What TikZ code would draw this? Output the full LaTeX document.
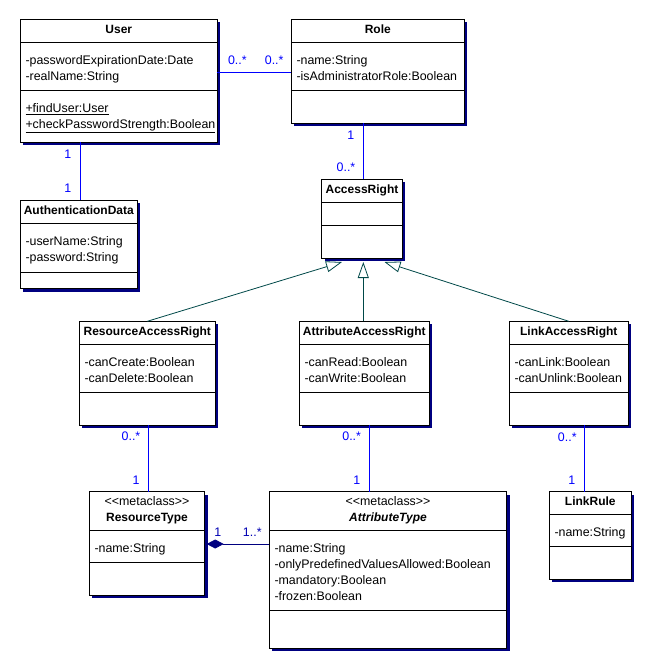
\documentclass[tikz,border=0pt]{standalone}
\usepackage{fontspec}
\setmainfont{Liberation Sans}[Ligatures=TeXOff]
\usepackage{tikz}
\usetikzlibrary{arrows.meta,positioning,calc,shadows}
\definecolor{umlnavy}{RGB}{0,0,128}
\definecolor{assocblue}{RGB}{0,0,255}
\definecolor{genteal}{RGB}{0,72,72}

\tikzset{
  umlclass/.style={draw=black, fill=white, line width=0.8pt, anchor=north west,
    inner sep=0pt, outer sep=0pt,
    drop shadow={shadow xshift=3pt, shadow yshift=-3pt, fill=umlnavy, opacity=1}},
  divider/.style={draw=black, line width=0.8pt},
  cname/.style={font=\fontsize{12}{14}\selectfont\bfseries, anchor=base, inner sep=0pt},
  stereo/.style={font=\fontsize{12.4}{14}\selectfont, anchor=base, inner sep=0pt},
  attr/.style={font=\fontsize{12.4}{16}\selectfont, anchor=base west, inner sep=0pt},
  mult/.style={font=\fontsize{12.4}{14}\selectfont, text=assocblue, inner sep=0pt},
  assoc/.style={draw=assocblue, line width=0.8pt},
  gen/.style={draw=genteal, line width=0.8pt,
    -{Triangle[length=16pt, width=11pt, fill=white]}},
  comp/.style={draw=umlnavy, line width=0.8pt, -{Diamond[length=17pt, width=9pt]}},
}

\begin{document}
\begin{tikzpicture}[x=1pt, y=-1pt]
  \useasboundingbox (0,0) rectangle (645,662);

  \node[umlclass, minimum width=197pt, minimum height=123pt] (user) at (20.3,19.3) {};
  \foreach \d in {23.4,70.7}
    \draw[divider] ($(user.north west)+(0,\d)$) -- ($(user.north east)+(0,\d)$);
  \node[cname] (user-name) at (118.8,33) {User};
  \node[attr] (user-a1) at (25.3,64.7) {-passwordExpirationDate:Date};
  \node[attr] (user-a2) at (25.3,80.7) {-realName:String};
  \node[attr] (user-o1) at (25.3,112.7) {\underline{+findUser:User}};
  \node[attr] (user-o2) at (25.3,128.7) {\underline{+checkPasswordStrength:Boolean}};

  \node[umlclass, minimum width=173pt, minimum height=104pt] (role) at (291.3,19.3) {};
  \foreach \d in {23.4,70.7}
    \draw[divider] ($(role.north west)+(0,\d)$) -- ($(role.north east)+(0,\d)$);
  \node[cname] (role-name) at (377.8,33) {Role};
  \node[attr] (role-a1) at (296.3,64.7) {-name:String};
  \node[attr] (role-a2) at (296.3,80.7) {-isAdministratorRole:Boolean};

  \node[umlclass, minimum width=117pt, minimum height=88.7pt] (auth) at (20.3,200) {};
  \foreach \d in {23,72}
    \draw[divider] ($(auth.north west)+(0,\d)$) -- ($(auth.north east)+(0,\d)$);
  \node[cname] (auth-name) at (78.8,214.5) {AuthenticationData};
  \node[attr] (auth-a1) at (25.3,245) {-userName:String};
  \node[attr] (auth-a2) at (25.3,261) {-password:String};

  \node[umlclass, minimum width=80.6pt, minimum height=79pt] (ar) at (321.7,179.3) {};
  \foreach \d in {22.7,46}
    \draw[divider] ($(ar.north west)+(0,\d)$) -- ($(ar.north east)+(0,\d)$);
  \node[cname] (ar-name) at (362,193.2) {AccessRight};

  \node[umlclass, minimum width=136pt, minimum height=104pt] (rar) at (79.3,321.3) {};
  \foreach \d in {22.7,71}
    \draw[divider] ($(rar.north west)+(0,\d)$) -- ($(rar.north east)+(0,\d)$);
  \node[cname] (rar-name) at (147.3,335.2) {ResourceAccessRight};
  \node[attr] (rar-a1) at (84.3,366.5) {-canCreate:Boolean};
  \node[attr] (rar-a2) at (84.3,382.2) {-canDelete:Boolean};

  \node[umlclass, minimum width=130pt, minimum height=104pt] (aar) at (299.3,321.3) {};
  \foreach \d in {22.7,71}
    \draw[divider] ($(aar.north west)+(0,\d)$) -- ($(aar.north east)+(0,\d)$);
  \node[cname] (aar-name) at (364.3,335.2) {AttributeAccessRight};
  \node[attr] (aar-a1) at (304.3,366.5) {-canRead:Boolean};
  \node[attr] (aar-a2) at (304.3,382.2) {-canWrite:Boolean};

  \node[umlclass, minimum width=119pt, minimum height=104pt] (lar) at (509.3,321.3) {};
  \foreach \d in {22.7,71}
    \draw[divider] ($(lar.north west)+(0,\d)$) -- ($(lar.north east)+(0,\d)$);
  \node[cname] (lar-name) at (568.8,335.2) {LinkAccessRight};
  \node[attr] (lar-a1) at (514.3,366.5) {-canLink:Boolean};
  \node[attr] (lar-a2) at (514.3,382.2) {-canUnlink:Boolean};

  \node[umlclass, minimum width=115.4pt, minimum height=103.6pt] (restype) at (89.3,491.7) {};
  \foreach \d in {39,70.6}
    \draw[divider] ($(restype.north west)+(0,\d)$) -- ($(restype.north east)+(0,\d)$);
  \node[stereo] (restype-st) at (147,505.5) {<<metaclass>>};
  \node[cname] (restype-name) at (147,521.2) {ResourceType};
  \node[attr] (restype-a1) at (94.3,552.5) {-name:String};

  \node[umlclass, minimum width=237.4pt, minimum height=156.6pt] (attype) at (269.3,491.7) {};
  \foreach \d in {39,118.6}
    \draw[divider] ($(attype.north west)+(0,\d)$) -- ($(attype.north east)+(0,\d)$);
  \node[stereo] (attype-st) at (388,505.5) {<<metaclass>>};
  \node[cname] (attype-name) at (388,521.2) {\itshape AttributeType};
  \node[attr] (attype-a1) at (274.3,552.5) {-name:String};
  \node[attr] (attype-a2) at (274.3,568.2) {-onlyPredefinedValuesAllowed:Boolean};
  \node[attr] (attype-a3) at (274.3,584.2) {-mandatory:Boolean};
  \node[attr] (attype-a4) at (274.3,600.2) {-frozen:Boolean};

  \node[umlclass, minimum width=82pt, minimum height=87.6pt] (linkrule) at (549.3,491.7) {};
  \foreach \d in {22.6,55}
    \draw[divider] ($(linkrule.north west)+(0,\d)$) -- ($(linkrule.north east)+(0,\d)$);
  \node[cname] (linkrule-name) at (590.3,505.2) {LinkRule};
  \node[attr] (linkrule-a1) at (554.3,536.2) {-name:String};

  \draw[assoc] ($(user.north east)+(0,52.7)$) -- ($(role.north west)+(0,52.7)$);
  \node[mult] (m-ur1) at (237.4,60.7) {0..*};
  \node[mult] (m-ur2) at (274.2,60.7) {0..*};

  \coordinate (authlink) at ($(auth.north)+(1.5,0)$);
  \draw[assoc] (authlink) -- (authlink |- user.south);
  \node[mult] (m-ua1) at (67.7,154) {1};
  \node[mult] (m-ua2) at (67.7,188.7) {1};

  \coordinate (arlink) at ($(ar.north)+(1.3,0)$);
  \draw[assoc] (arlink) -- (arlink |- role.south);
  \node[mult] (m-ra1) at (350.7,135) {1};
  \node[mult] (m-ra2) at (346,167) {0..*};

  \coordinate (gentip) at ($(ar.south)+(1.3,3.7)$);
  \draw[gen] (rar.north) -- ($(gentip)+(-21.3,0)$);
  \draw[gen] (gentip |- aar.north) -- (gentip);
  \draw[gen] (lar.north) -- ($(gentip)+(21.2,0)$);

  \coordinate (rarlink) at ($(rar.south)+(1,0)$);
  \draw[assoc] (rarlink) -- (rarlink |- restype.north);
  \node[mult] (m-rr1) at (131,436.7) {0..*};
  \node[mult] (m-rr2) at (136,480) {1};

  \coordinate (aarlink) at ($(aar.south)+(5,0)$);
  \draw[assoc] (aarlink) -- (aarlink |- attype.north);
  \node[mult] (m-aa1) at (351.7,436.7) {0..*};
  \node[mult] (m-aa2) at (356.7,480) {1};

  \coordinate (larlink) at ($(linkrule.north)+(-6.3,0)$);
  \draw[assoc] (larlink |- lar.south) -- (larlink);
  \node[mult] (m-ll1) at (567.3,437) {0..*};
  \node[mult] (m-ll2) at (571.7,480) {1};

  \draw[comp] ($(attype.north west)+(0,52.3)$) -- ($(restype.north east)+(2,52.3)$);
  \node[mult, text=umlnavy!60!assocblue] (m-c1) at (217.7,532.3) {1};
  \node[mult, text=umlnavy!60!assocblue] (m-c2) at (252.3,532) {1..*};
\end{tikzpicture}
\end{document}
